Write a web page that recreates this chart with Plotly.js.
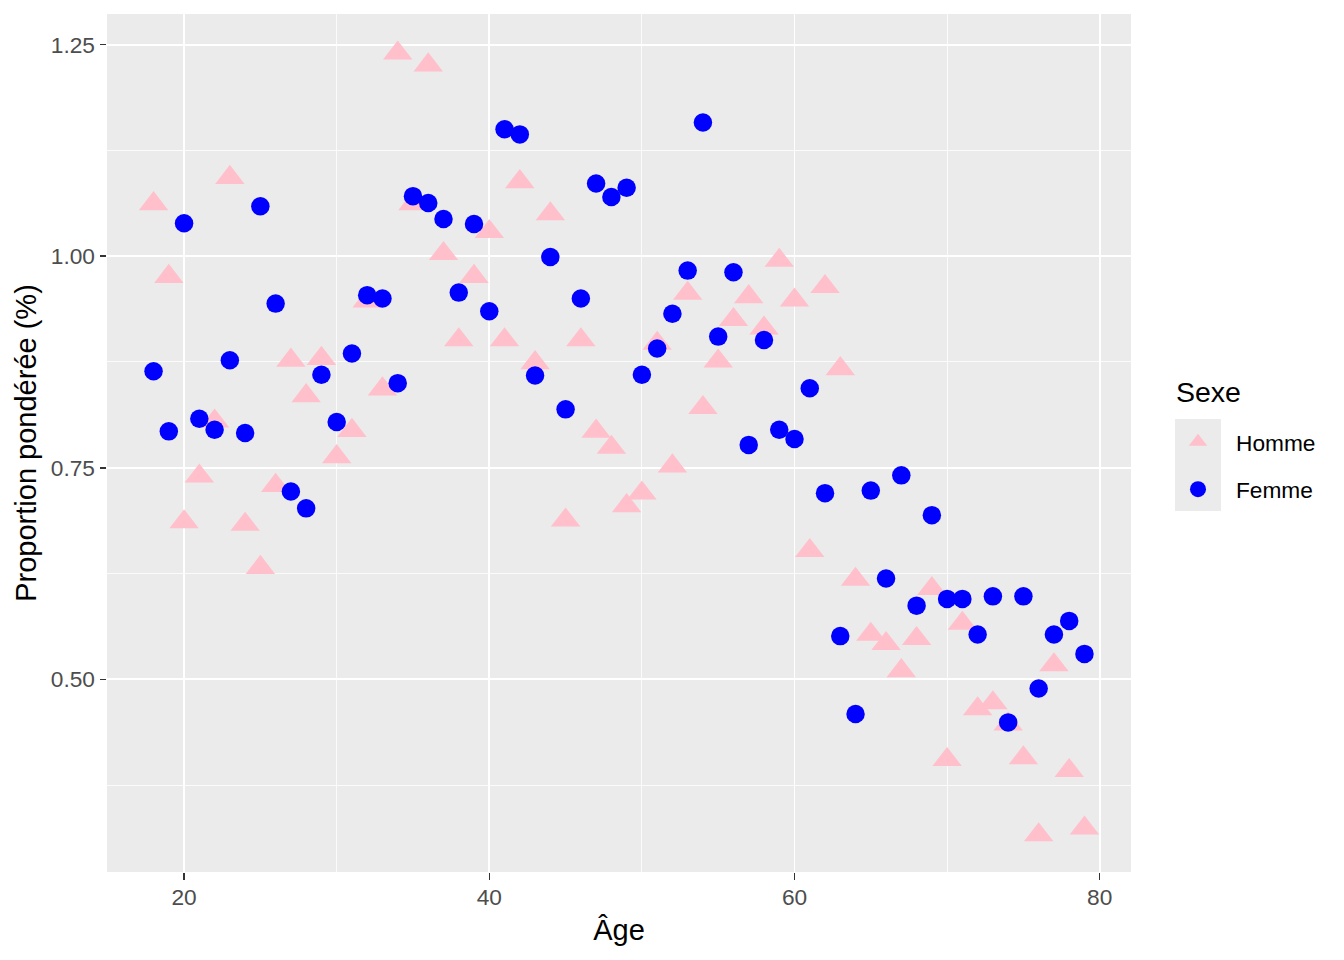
<!DOCTYPE html>
<html>
<head>
<meta charset="utf-8">
<script src="https://cdn.plot.ly/plotly-3.0.1.min.js"></script>
<style>html,body{margin:0;padding:0;background:#fff;}#chart{width:1344px;height:960px;}</style>
</head>
<body>
<div id="chart"></div>
<script>
const ages = [18,19,20,21,22,23,24,25,26,27,28,29,30,31,32,33,34,35,36,37,38,39,40,41,42,43,44,45,46,47,48,49,50,51,52,53,54,55,56,57,58,59,60,61,62,63,64,65,66,67,68,69,70,71,72,73,74,75,76,77,78,79];
const homme = [1.062,0.976,0.686,0.740,0.805,1.093,0.683,0.632,0.729,0.877,
  0.835,0.879,0.763,0.794,0.947,0.843,1.240,1.062,1.226,1.003,
  0.901,0.976,1.029,0.901,1.088,0.874,1.050,0.688,0.901,0.793,
  0.774,0.705,0.720,0.897,0.752,0.956,0.821,0.876,0.925,0.952,
  0.915,0.995,0.948,0.652,0.964,0.867,0.618,0.553,0.542,0.510,
  0.548,0.607,0.405,0.566,0.465,0.472,0.447,0.407,0.316,0.517,0.392,0.324];
const femme = [0.864,0.793,1.039,0.808,0.795,0.877,0.791,1.059,0.944,0.722,
  0.702,0.860,0.804,0.885,0.954,0.950,0.850,1.071,1.063,1.044,
  0.957,1.038,0.935,1.150,1.144,0.859,0.999,0.819,0.950,1.086,
  1.070,1.081,0.860,0.891,0.932,0.983,1.158,0.905,0.981,0.777,
  0.901,0.795,0.784,0.844,0.720,0.551,0.459,0.723,0.619,0.741,
  0.587,0.694,0.595,0.595,0.553,0.598,0.449,0.598,0.489,0.553,0.569,0.530];
const seriesNames = ["Homme", "Femme"];
const xTitle = "Âge";
const yTitle = "Proportion pondérée (%)";
const legendTitle = "Sexe";

const FONT = "Liberation Sans, Arial, sans-serif";

const traces = [
  {x: ages, y: homme, name: seriesNames[0], type: "scatter", mode: "markers", legendgroup: "h",
   marker: {symbol: "triangle-up", size: 25.5, color: "#FFC0CB", line: {width: 0}}, hoverinfo: "x+y"},
  {x: ages, y: femme, name: seriesNames[1], type: "scatter", mode: "markers", legendgroup: "f",
   marker: {symbol: "circle", size: 18.5, color: "#0000FF", line: {width: 0}}, hoverinfo: "x+y"}
];

const axisCommon = {
  showline: false, zeroline: false, ticks: "outside", ticklen: 6.5, tickwidth: 1.5, tickcolor: "#333333",
  gridcolor: "#FFFFFF", gridwidth: 1.6, showgrid: true,
  tickfont: {family: FONT, size: 22.7, color: "#4D4D4D"},
  minor: {showgrid: true, gridcolor: "#FFFFFF", gridwidth: 0.8, ticks: ""}
};

const layout = {
  width: 1344, height: 960,
  paper_bgcolor: "#FFFFFF", plot_bgcolor: "#EBEBEB",
  margin: {l: 107, r: 213, t: 14, b: 88, autoexpand: false},
  font: {family: FONT},
  xaxis: Object.assign({}, axisCommon, {
    range: [14.95, 82.05], tick0: 0, dtick: 20, ticklabelstandoff: -2,
    minor: Object.assign({}, axisCommon.minor, {dtick: 10}),
    title: {text: xTitle, font: {family: FONT, size: 29, color: "#000000"}, standoff: 10}
  }),
  yaxis: Object.assign({}, axisCommon, {
    range: [0.2722, 1.2863], tick0: 0, dtick: 0.25, tickformat: ".2f",
    minor: Object.assign({}, axisCommon.minor, {dtick: 0.125}),
    title: {text: yTitle, font: {family: FONT, size: 29, color: "#000000"}, standoff: 5}
  }),
  showlegend: true,
  legend: {
    x: 1.02832, xanchor: "left", y: 0.4733, yanchor: "middle",
    traceorder: "grouped", tracegroupgap: 15, itemwidth: 66,
    bgcolor: "rgba(0,0,0,0)", borderwidth: 0,
    font: {family: FONT, size: 22.7, color: "#000000"}
  },
  annotations: [
    {text: legendTitle, xref: "paper", yref: "paper", x: 1.04297, y: 0.5594,
     xanchor: "left", yanchor: "middle", showarrow: false, borderpad: 0,
     font: {family: FONT, size: 28.5, color: "#000000"}}
  ],
  shapes: [
    {type: "rect", xref: "paper", yref: "paper", layer: "below",
     x0: 1.04297, x1: 1.08789, y0: 0.42075, y1: 0.52797,
     fillcolor: "#EBEBEB", line: {width: 0}}
  ]
};

Plotly.newPlot("chart", traces, layout, {displayModeBar: false, staticPlot: true});
</script>
</body>
</html>
